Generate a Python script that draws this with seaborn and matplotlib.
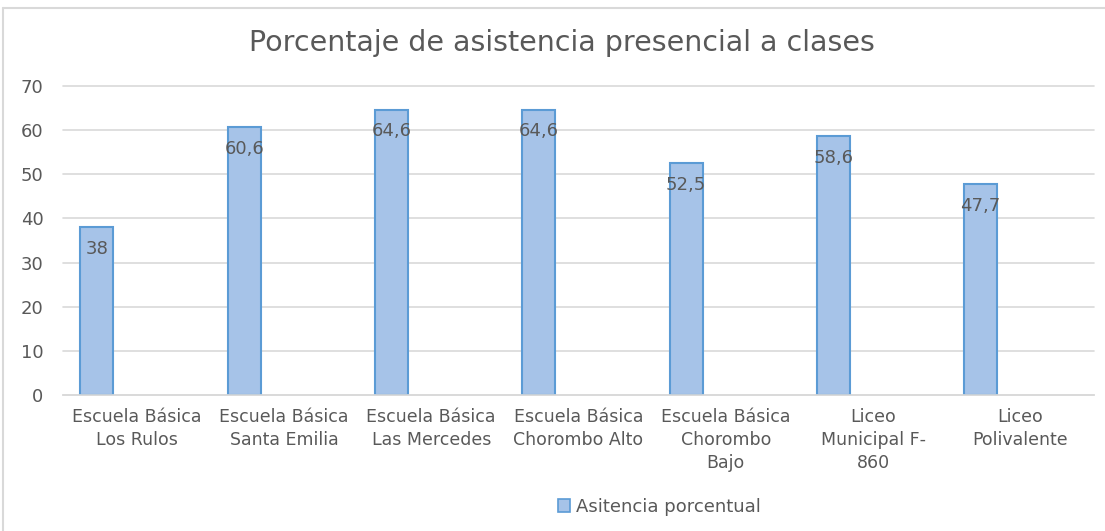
import matplotlib
matplotlib.use("Agg")
import matplotlib.pyplot as plt
import seaborn as sns
import pandas as pd
from matplotlib.patches import Patch
from matplotlib.lines import Line2D

categories = [
    "Escuela Básica\nLos Rulos",
    "Escuela Básica\nSanta Emilia",
    "Escuela Básica\nLas Mercedes",
    "Escuela Básica\nChorombo Alto",
    "Escuela Básica\nChorombo\nBajo",
    "Liceo\nMunicipal F-\n860",
    "Liceo\nPolivalente",
]
values = [38, 60.6, 64.6, 64.6, 52.5, 58.6, 47.7]
series_name = "Asitencia porcentual"
title = "Porcentaje de asistencia presencial a clases"
yticks = [0, 10, 20, 30, 40, 50, 60, 70]

sns.set_theme(style="white")
plt.rcParams["font.family"] = ["DejaVu Sans"]

text_color = "#595959"
grid_color = "#d9d9d9"
bar_face = "#a6c3e8"
bar_edge = "#5b9bd5"

df = pd.DataFrame({"cat": categories, "val": values, "serie": series_name})

fig = plt.figure(figsize=(11.05, 5.31), dpi=100)
ax = fig.add_axes([63 / 1105, 1 - 395 / 531, (1094 - 63) / 1105, (395 - 86) / 531])

sns.barplot(
    data=df, x="cat", y="val", hue="serie",
    hue_order=[series_name, " "], order=categories,
    width=1.08, gap=0.585, dodge=True,
    palette=[bar_face, bar_face],
    edgecolor=bar_edge, linewidth=1.5, saturation=1,
    errorbar=None, legend=False, ax=ax,
)

ax.set_xlim(-0.5, len(categories) - 0.5)
ax.set_ylim(0, 70)
ax.set_yticks(yticks)
ax.set_yticklabels([str(t) for t in yticks])
ax.yaxis.grid(True, color=grid_color, linewidth=1.2)
for gl in ax.get_ygridlines():
    gl.set_clip_on(False)
ax.set_axisbelow(True)
for s in ["top", "right", "left"]:
    ax.spines[s].set_visible(False)
ax.spines["bottom"].set_color(grid_color)
ax.spines["bottom"].set_linewidth(1.2)
ax.tick_params(axis="y", length=0, pad=14, labelsize=13, labelcolor=text_color)
ax.tick_params(axis="x", length=0, pad=9, labelsize=12.5, labelcolor=text_color)
for lbl in ax.get_xticklabels():
    lbl.set_linespacing(1.38)
ax.set_xlabel("")
ax.set_ylabel("")

for cont in ax.containers:
    ax.bar_label(
        cont,
        labels=[("%g" % v).replace(".", ",") for v in cont.datavalues],
        padding=-22, color=text_color, fontsize=13,
    )

fig.text(562 / 1105, 1 - 43 / 531, title, ha="center", va="center",
         fontsize=20.5, color=text_color)

handle = Patch(facecolor=bar_face, edgecolor=bar_edge, linewidth=1.2)
fig.legend([handle], [series_name], loc="center", bbox_to_anchor=(659 / 1105, 1 - 507 / 531),
           frameon=False, fontsize=13, labelcolor=text_color,
           handlelength=0.7, handleheight=0.7, handletextpad=0.3)

# chart frame (left and top edges)
fig.add_artist(Line2D([3 / 1105, 3 / 1105], [0, 1 - 8 / 531], transform=fig.transFigure,
                      color="#d9d9d9", linewidth=1.5))
fig.add_artist(Line2D([3 / 1105, 1], [1 - 8 / 531, 1 - 8 / 531], transform=fig.transFigure,
                      color="#d9d9d9", linewidth=1.5))

fig.savefig("out.png", dpi=100, facecolor="white")
